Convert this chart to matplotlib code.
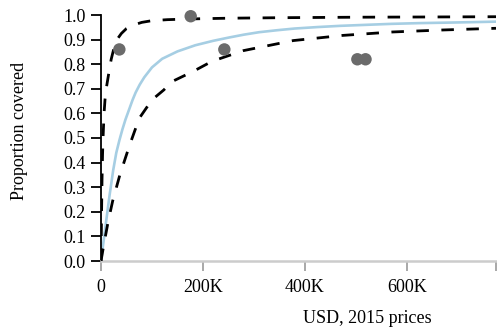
import matplotlib
matplotlib.use("Agg")
import matplotlib.pyplot as plt

# values (x in thousands of USD, 2015 prices)
upper_x = [0, 1, 2, 3, 4, 6, 8, 11, 15, 20, 26, 33, 40, 50, 62, 80, 100, 130, 175, 250, 350, 500, 650, 775]
upper_y = [0, 0.18, 0.33, 0.43, 0.50, 0.60, 0.66, 0.71, 0.76, 0.82, 0.87, 0.905, 0.925, 0.945, 0.958,
           0.970, 0.977, 0.981, 0.984, 0.987, 0.989, 0.991, 0.992, 0.993]

mid_x = [0, 5, 10, 17, 24, 30, 36, 42, 48, 55, 62, 68, 76, 85, 100, 120, 150, 185, 220, 250, 280,
         310, 345, 380, 425, 470, 520, 570, 625, 680, 730, 775]
mid_y = [0, 0.08, 0.16, 0.27, 0.37, 0.44, 0.49, 0.535, 0.575, 0.615, 0.655, 0.685, 0.717, 0.747, 0.787,
         0.822, 0.852, 0.877, 0.895, 0.908, 0.92, 0.93, 0.938, 0.945, 0.951, 0.956, 0.96, 0.964,
         0.967, 0.969, 0.971, 0.973]

lower_x = [0, 5, 14, 23, 37, 56, 75, 100, 123, 140, 182, 218, 279, 377, 474, 572, 669, 775]
lower_y = [0, 0.06, 0.16, 0.245, 0.35, 0.47, 0.58, 0.655, 0.695, 0.73, 0.772, 0.812, 0.855, 0.896,
           0.917, 0.931, 0.939, 0.946]

obs_x = [36, 176, 242, 503, 519]
obs_y = [0.86, 0.995, 0.86, 0.82, 0.82]

xticks = [0, 200, 400, 600, 775]
xticklabels = ["0", "200K", "400K", "600K", ""]
yticks = [0.0, 0.1, 0.2, 0.3, 0.4, 0.5, 0.6, 0.7, 0.8, 0.9, 1.0]

plt.rcParams["font.family"] = ["Liberation Serif", "DejaVu Serif"]

fig = plt.figure(figsize=(4.97, 3.33), dpi=100)
ax = fig.add_axes([101 / 497, (333 - 261) / 333, (496 - 101) / 497, (261 - 15) / 333])

ax.plot(mid_x, mid_y, color="#a6cee3", lw=1.9, solid_capstyle="butt", zorder=2)
ax.plot(upper_x, upper_y, color="black", lw=2, dashes=(4.5, 4.5), zorder=3)
ax.plot(lower_x, lower_y, color="black", lw=2, dashes=(4.5, 4.5), zorder=3)
ax.scatter(obs_x, obs_y, s=80, color="#6b6b6b", edgecolors="none", zorder=4, clip_on=False)

ax.set_xlim(0, 775)
ax.set_ylim(0, 1)

for s in ["top", "right"]:
    ax.spines[s].set_visible(False)
ax.spines["left"].set_color("black")
ax.spines["left"].set_linewidth(1.3)
ax.spines["bottom"].set_color("#cccccc")
ax.spines["bottom"].set_linewidth(1.8)

ax.set_yticks(yticks)
ax.set_yticklabels([f"{v:.1f}" for v in yticks])
ax.set_xticks(xticks)
ax.set_xticklabels(xticklabels)

ax.tick_params(axis="y", length=7, width=1.3, color="black", pad=4, labelsize=13)
ax.tick_params(axis="x", length=7, width=1.2, color="#999999", pad=6, labelsize=13)

ax.set_ylabel("Proportion covered", fontsize=13)
ax.yaxis.set_label_coords(-0.185, 0.53)
ax.set_xlabel("USD, 2015 prices", fontsize=13)
ax.xaxis.set_label_coords(0.675, -0.2)

fig.savefig("out.png", dpi=100)
